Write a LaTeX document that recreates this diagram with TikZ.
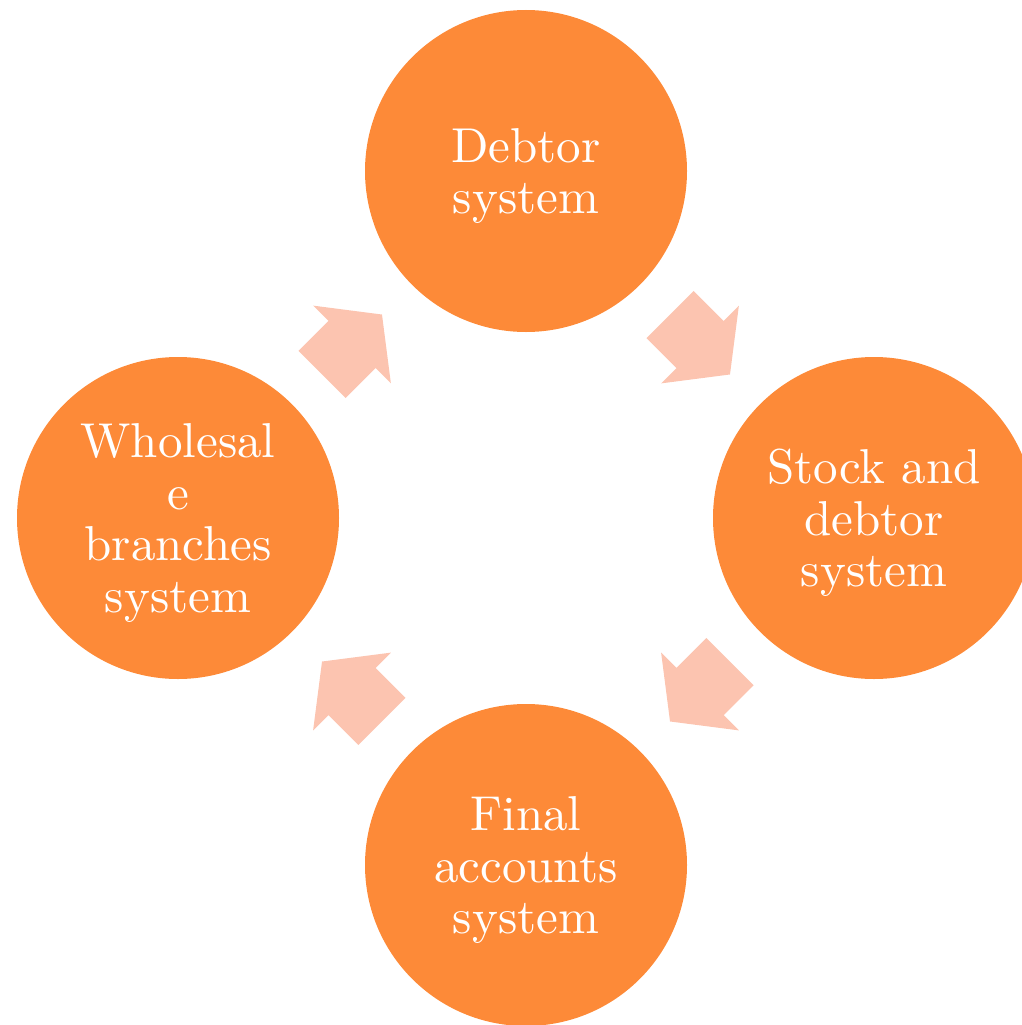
\documentclass[tikz,border=0pt]{standalone}
\usepackage{fontspec}
\newfontfamily\labelfont{lmroman10-regular}[Extension=.otf]
\usetikzlibrary{calc}
\definecolor{stageorange}{RGB}{253,138,56}
\definecolor{flowpeach}{RGB}{252,196,176}
\tikzset{
  stage/.style={circle, fill=stageorange, draw=none, minimum size=322pt,
    inner sep=0pt, text=white, align=center, text depth=0pt,
    font=\labelfont\fontsize{49}{51.5}\selectfont},
  flow/.style={fill=flowpeach, draw=none},
}
% block arrow centred on the midpoint of two stages, pointing at angle #3
\newcommand\flowarrow[4]{%
  \path ($(#1)!0.5!(#2)$) coordinate (#4);
  \fill[flow, shift={(#4)}, rotate=#3]
    (-42.4,-33.4) -- (0,-33.4) -- (0,-55) -- (42.4,0) -- (0,55)
    -- (0,33.4) -- (-42.4,33.4) -- cycle;
}
\begin{document}
\begin{tikzpicture}[x=1pt,y=-1pt]
  \path[use as bounding box] (0,0) rectangle (1022,1025);
  \clip (0,0) rectangle (1022,1025);

  \node[stage] (debtor) at (526,171) {Debtor\\system};
  \node[stage] (stock)  at (874,518) {Stock and\\debtor\\system};
  \node[stage] (final)  at (526,865) {Final\\accounts\\system};
  \node[stage] (whole)  at (178,518) {Wholesal\\e\\branches\\system};

  \flowarrow{whole}{debtor}{45}{m1}
  \flowarrow{debtor}{stock}{-45}{m2}
  \flowarrow{stock}{final}{-135}{m3}
  \flowarrow{final}{whole}{135}{m4}
\end{tikzpicture}
\end{document}
